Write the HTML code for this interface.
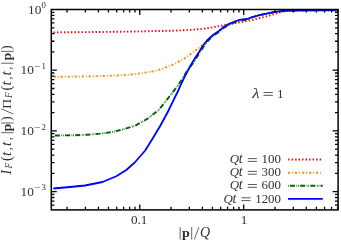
<!DOCTYPE html>
<html><head><meta charset="utf-8"><title>plot</title>
<style>
html,body{margin:0;padding:0;background:#fff;}
body{width:341px;height:243px;overflow:hidden;}
svg{display:block;}
svg{will-change:transform;}
text{font-family:"Liberation Serif",serif;fill:#303030;}
.i{font-style:italic;}
.b{font-weight:bold;}
</style></head><body>
<svg width="341" height="243" viewBox="0 0 341 243">
<rect width="341" height="243" fill="#fff"/>

<g fill="none" stroke-linejoin="round">
<polyline points="53.50,32.40 75.00,32.20 100.00,32.00 120.00,31.70 135.00,31.50 150.00,31.20 172.00,30.75 185.00,30.20 195.00,29.50 206.20,28.40 217.30,26.50 229.70,24.00 243.00,21.80 251.20,20.20 259.40,18.20 267.60,16.10 275.80,13.70 280.80,12.20 285.70,10.90 292.00,10.50 300.00,10.30 336.50,10.20" stroke="#ff0000" stroke-width="1.9" stroke-dasharray="1.4 2.1"/>
<polyline points="53.70,76.80 75.00,76.60 100.00,76.10 120.00,75.30 130.00,74.70 142.50,73.00 155.00,71.00 161.20,69.20 167.40,66.70 172.30,64.90 178.50,61.80 184.70,58.30 188.50,55.50 194.70,51.00 200.20,46.90 202.70,45.00 207.00,41.20 212.00,36.40 217.60,32.60 223.80,27.60 230.00,24.00 236.20,21.50 241.10,20.20 247.30,19.50 251.20,17.50 259.40,15.20 267.60,13.40 275.80,11.90 284.00,10.80 292.30,10.50 305.00,10.30 336.50,10.20" stroke="#ff8c00" stroke-width="1.9" stroke-dasharray="2.2 1.95 0.9 1.95"/>
<polyline points="54.80,135.50 75.00,135.20 87.50,134.70 100.00,133.60 112.50,132.00 122.50,129.50 135.00,125.80 147.50,118.75 158.60,110.00 163.50,104.10 169.70,96.20 175.90,88.00 180.80,81.20 184.50,75.00 188.50,69.00 192.80,63.50 196.00,58.70 204.00,46.00 208.20,40.50 213.00,35.80 217.90,32.80 224.10,27.80 230.30,24.20 236.50,21.70 241.40,20.40 247.60,19.70 251.20,17.50 259.40,15.20 267.60,13.40 275.80,11.90 284.00,10.80 292.30,10.50 305.00,10.30 336.50,10.20" stroke="#006400" stroke-width="1.9" stroke-dasharray="5.0 1.6 0.7 0.95 0.7 1.25"/>
<polyline points="53.30,188.50 70.00,187.00 85.00,185.50 102.50,182.00 116.25,176.25 126.25,170.00 134.75,162.50 145.00,150.75 152.50,138.75 160.00,126.25 167.50,112.50 173.40,100.40 178.30,90.50 180.40,85.60 184.70,76.60 189.60,67.30 194.60,58.70 198.40,53.00 202.70,46.00 207.00,40.50 212.00,35.80 217.30,32.10 223.50,27.10 229.70,23.50 235.90,21.00 240.80,19.70 247.00,19.00 251.20,17.50 259.40,15.20 267.60,13.40 275.80,11.90 284.00,10.80 292.30,10.50 305.00,10.30 336.50,10.20" stroke="#0000ff" stroke-width="1.8"/>
<line x1="288.2" x2="322.8" y1="159.5" y2="159.5" stroke="#ff0000" stroke-width="1.9" stroke-dasharray="1.4 2.1"/>
<line x1="288" x2="322.8" y1="172.7" y2="172.7" stroke="#ff8c00" stroke-width="1.9" stroke-dasharray="2.2 1.95 0.9 1.95"/>
<line x1="288" x2="322.8" y1="185.8" y2="185.8" stroke="#006400" stroke-width="1.9" stroke-dasharray="5.0 1.6 0.7 0.95 0.7 1.25" stroke-dashoffset="8.25"/>
<line x1="288" x2="322.8" y1="198.9" y2="198.9" stroke="#0000ff" stroke-width="1.8"/>
</g>
<path d="M67.09 209.9v-3.0999999999999996M67.09 9.5v3.0999999999999996M85.40 209.9v-3.0999999999999996M85.40 9.5v3.0999999999999996M98.38 209.9v-3.0999999999999996M98.38 9.5v3.0999999999999996M108.46 209.9v-3.0999999999999996M108.46 9.5v3.0999999999999996M116.69 209.9v-3.0999999999999996M116.69 9.5v3.0999999999999996M123.65 209.9v-3.0999999999999996M123.65 9.5v3.0999999999999996M129.68 209.9v-3.0999999999999996M129.68 9.5v3.0999999999999996M134.99 209.9v-3.0999999999999996M134.99 9.5v3.0999999999999996M139.75 209.9v-5.5M139.75 9.5v5.5M171.04 209.9v-3.0999999999999996M171.04 9.5v3.0999999999999996M189.35 209.9v-3.0999999999999996M189.35 9.5v3.0999999999999996M202.33 209.9v-3.0999999999999996M202.33 9.5v3.0999999999999996M212.41 209.9v-3.0999999999999996M212.41 9.5v3.0999999999999996M220.64 209.9v-3.0999999999999996M220.64 9.5v3.0999999999999996M227.60 209.9v-3.0999999999999996M227.60 9.5v3.0999999999999996M233.63 209.9v-3.0999999999999996M233.63 9.5v3.0999999999999996M238.94 209.9v-3.0999999999999996M238.94 9.5v3.0999999999999996M243.70 209.9v-5.5M243.70 9.5v5.5M274.99 209.9v-3.0999999999999996M274.99 9.5v3.0999999999999996M293.30 209.9v-3.0999999999999996M293.30 9.5v3.0999999999999996M306.28 209.9v-3.0999999999999996M306.28 9.5v3.0999999999999996M316.36 209.9v-3.0999999999999996M316.36 9.5v3.0999999999999996M324.59 209.9v-3.0999999999999996M324.59 9.5v3.0999999999999996M331.55 209.9v-3.0999999999999996M331.55 9.5v3.0999999999999996M337.58 209.9v-3.0999999999999996M337.58 9.5v3.0999999999999996M51.3 205.09h3.0999999999999996M338.1 205.09h-3.0999999999999996M51.3 201.03h3.0999999999999996M338.1 201.03h-3.0999999999999996M51.3 197.51h3.0999999999999996M338.1 197.51h-3.0999999999999996M51.3 194.40h3.0999999999999996M338.1 194.40h-3.0999999999999996M51.3 191.62h5.5M338.1 191.62h-5.5M51.3 173.35h3.0999999999999996M338.1 173.35h-3.0999999999999996M51.3 162.66h3.0999999999999996M338.1 162.66h-3.0999999999999996M51.3 155.07h3.0999999999999996M338.1 155.07h-3.0999999999999996M51.3 149.19h3.0999999999999996M338.1 149.19h-3.0999999999999996M51.3 144.38h3.0999999999999996M338.1 144.38h-3.0999999999999996M51.3 140.32h3.0999999999999996M338.1 140.32h-3.0999999999999996M51.3 136.80h3.0999999999999996M338.1 136.80h-3.0999999999999996M51.3 133.69h3.0999999999999996M338.1 133.69h-3.0999999999999996M51.3 130.92h5.5M338.1 130.92h-5.5M51.3 112.64h3.0999999999999996M338.1 112.64h-3.0999999999999996M51.3 101.95h3.0999999999999996M338.1 101.95h-3.0999999999999996M51.3 94.37h3.0999999999999996M338.1 94.37h-3.0999999999999996M51.3 88.48h3.0999999999999996M338.1 88.48h-3.0999999999999996M51.3 83.68h3.0999999999999996M338.1 83.68h-3.0999999999999996M51.3 79.61h3.0999999999999996M338.1 79.61h-3.0999999999999996M51.3 76.09h3.0999999999999996M338.1 76.09h-3.0999999999999996M51.3 72.99h3.0999999999999996M338.1 72.99h-3.0999999999999996M51.3 70.21h5.5M338.1 70.21h-5.5M51.3 51.93h3.0999999999999996M338.1 51.93h-3.0999999999999996M51.3 41.24h3.0999999999999996M338.1 41.24h-3.0999999999999996M51.3 33.66h3.0999999999999996M338.1 33.66h-3.0999999999999996M51.3 27.78h3.0999999999999996M338.1 27.78h-3.0999999999999996M51.3 22.97h3.0999999999999996M338.1 22.97h-3.0999999999999996M51.3 18.90h3.0999999999999996M338.1 18.90h-3.0999999999999996M51.3 15.38h3.0999999999999996M338.1 15.38h-3.0999999999999996M51.3 12.28h3.0999999999999996M338.1 12.28h-3.0999999999999996" stroke="#000" stroke-width="1.3" fill="none"/>
<rect x="51.3" y="9.5" width="286.8" height="200.4" fill="none" stroke="#000" stroke-width="1.5"/>
<text y="13.60" font-size="13.3"><tspan x="28.0">10</tspan><tspan x="41.4" dy="-5.4" font-size="8.8">0</tspan></text>
<text y="74.31" font-size="13.3"><tspan x="20.6">10</tspan><tspan x="34.3" dy="-5.4" font-size="8.8" textLength="6.6" lengthAdjust="spacingAndGlyphs">−</tspan><tspan x="41.6" font-size="8.8">1</tspan></text>
<text y="135.02" font-size="13.3"><tspan x="20.6">10</tspan><tspan x="34.3" dy="-5.4" font-size="8.8" textLength="6.6" lengthAdjust="spacingAndGlyphs">−</tspan><tspan x="41.6" font-size="8.8">2</tspan></text>
<text y="195.72" font-size="13.3"><tspan x="20.6">10</tspan><tspan x="34.3" dy="-5.4" font-size="8.8" textLength="6.6" lengthAdjust="spacingAndGlyphs">−</tspan><tspan x="41.6" font-size="8.8">3</tspan></text>
<text x="139.15" y="223.7" font-size="13.2" text-anchor="middle">0.1</text>
<text x="244.0" y="223.7" font-size="13.2" text-anchor="middle">1</text>
<path d="M180.15 227.1V239.6M191.7 227.1V239.6M194.3 239.5L198.9 227.2" stroke="#303030" stroke-width="0.75" fill="none"/>
<text y="236.5" font-size="12.7"><tspan x="182.0" class="b" textLength="7.8" lengthAdjust="spacingAndGlyphs">p</tspan><tspan x="200.1" class="i" font-size="14">Q</tspan></text>
<text y="97.8" font-size="12.7"><tspan x="252.2" class="i" font-size="13.6" textLength="7.3" lengthAdjust="spacingAndGlyphs">λ</tspan><tspan x="277.0" font-size="13.2">1</tspan></text>
<path d="M263.5 92.55H272.9M263.5 95.35H272.9" stroke="#303030" stroke-width="0.8" fill="none"/>
<text y="163.3" font-size="12.7"><tspan x="229.8" class="i" font-size="12.9">Q</tspan><tspan x="238.8" class="i" font-size="14">t</tspan><tspan x="261.6" font-size="13.1" textLength="19.4" lengthAdjust="spacingAndGlyphs">100</tspan></text>
<path d="M247.8 158.60H256.9M247.8 161.40H256.9" stroke="#303030" stroke-width="0.8" fill="none"/>
<text y="176.1" font-size="12.7"><tspan x="229.8" class="i" font-size="12.9">Q</tspan><tspan x="238.8" class="i" font-size="14">t</tspan><tspan x="261.6" font-size="13.1" textLength="19.4" lengthAdjust="spacingAndGlyphs">300</tspan></text>
<path d="M247.8 171.40H256.9M247.8 174.20H256.9" stroke="#303030" stroke-width="0.8" fill="none"/>
<text y="189.2" font-size="12.7"><tspan x="229.8" class="i" font-size="12.9">Q</tspan><tspan x="238.8" class="i" font-size="14">t</tspan><tspan x="261.6" font-size="13.1" textLength="19.4" lengthAdjust="spacingAndGlyphs">600</tspan></text>
<path d="M247.8 184.50H256.9M247.8 187.30H256.9" stroke="#303030" stroke-width="0.8" fill="none"/>
<text y="202.5" font-size="12.7"><tspan x="223.4" class="i" font-size="12.9">Q</tspan><tspan x="232.4" class="i" font-size="14">t</tspan><tspan x="255.2" font-size="13.1" textLength="25.8" lengthAdjust="spacingAndGlyphs">1200</tspan></text>
<path d="M241.4 197.80H250.49999999999997M241.4 200.60H250.49999999999997" stroke="#303030" stroke-width="0.8" fill="none"/>
<g transform="translate(10.5,174.8) rotate(-90)">
<path d="M42.1 -9.4V3.1M51.8 -9.4V3.1M111.6 -9.4V3.1M123.4 -9.4V3.1M60.7 3.0L66.0 -9.3" stroke="#303030" stroke-width="0.75" fill="none"/>
<text font-size="12.7"><tspan x="0.4" y="0" class="i" font-size="13.8">I</tspan><tspan x="6.2" y="1.9" class="i" font-size="9.3">F</tspan><tspan x="13.8" y="0.6" font-size="14">(</tspan><tspan x="18.9" y="0" class="i" font-size="15">t</tspan><tspan x="24.6" y="0">,</tspan><tspan x="28.8" y="0" class="i" font-size="15">t</tspan><tspan x="34.5" y="0">,</tspan><tspan x="43.2" y="0" class="b" textLength="7.8" lengthAdjust="spacingAndGlyphs">p</tspan><tspan x="53.8" y="0.6" font-size="14">)</tspan><tspan x="66.1" y="0" font-size="13.4">Π</tspan><tspan x="76.9" y="1.9" class="i" font-size="9.3">F</tspan><tspan x="84.2" y="0.6" font-size="14">(</tspan><tspan x="89.4" y="0" class="i" font-size="15">t</tspan><tspan x="95.2" y="0">,</tspan><tspan x="99.3" y="0" class="i" font-size="15">t</tspan><tspan x="105.1" y="0">,</tspan><tspan x="114.3" y="0" class="b" textLength="7.8" lengthAdjust="spacingAndGlyphs">p</tspan><tspan x="124.7" y="0.6" font-size="14">)</tspan></text>
</g>
</svg></body></html>
